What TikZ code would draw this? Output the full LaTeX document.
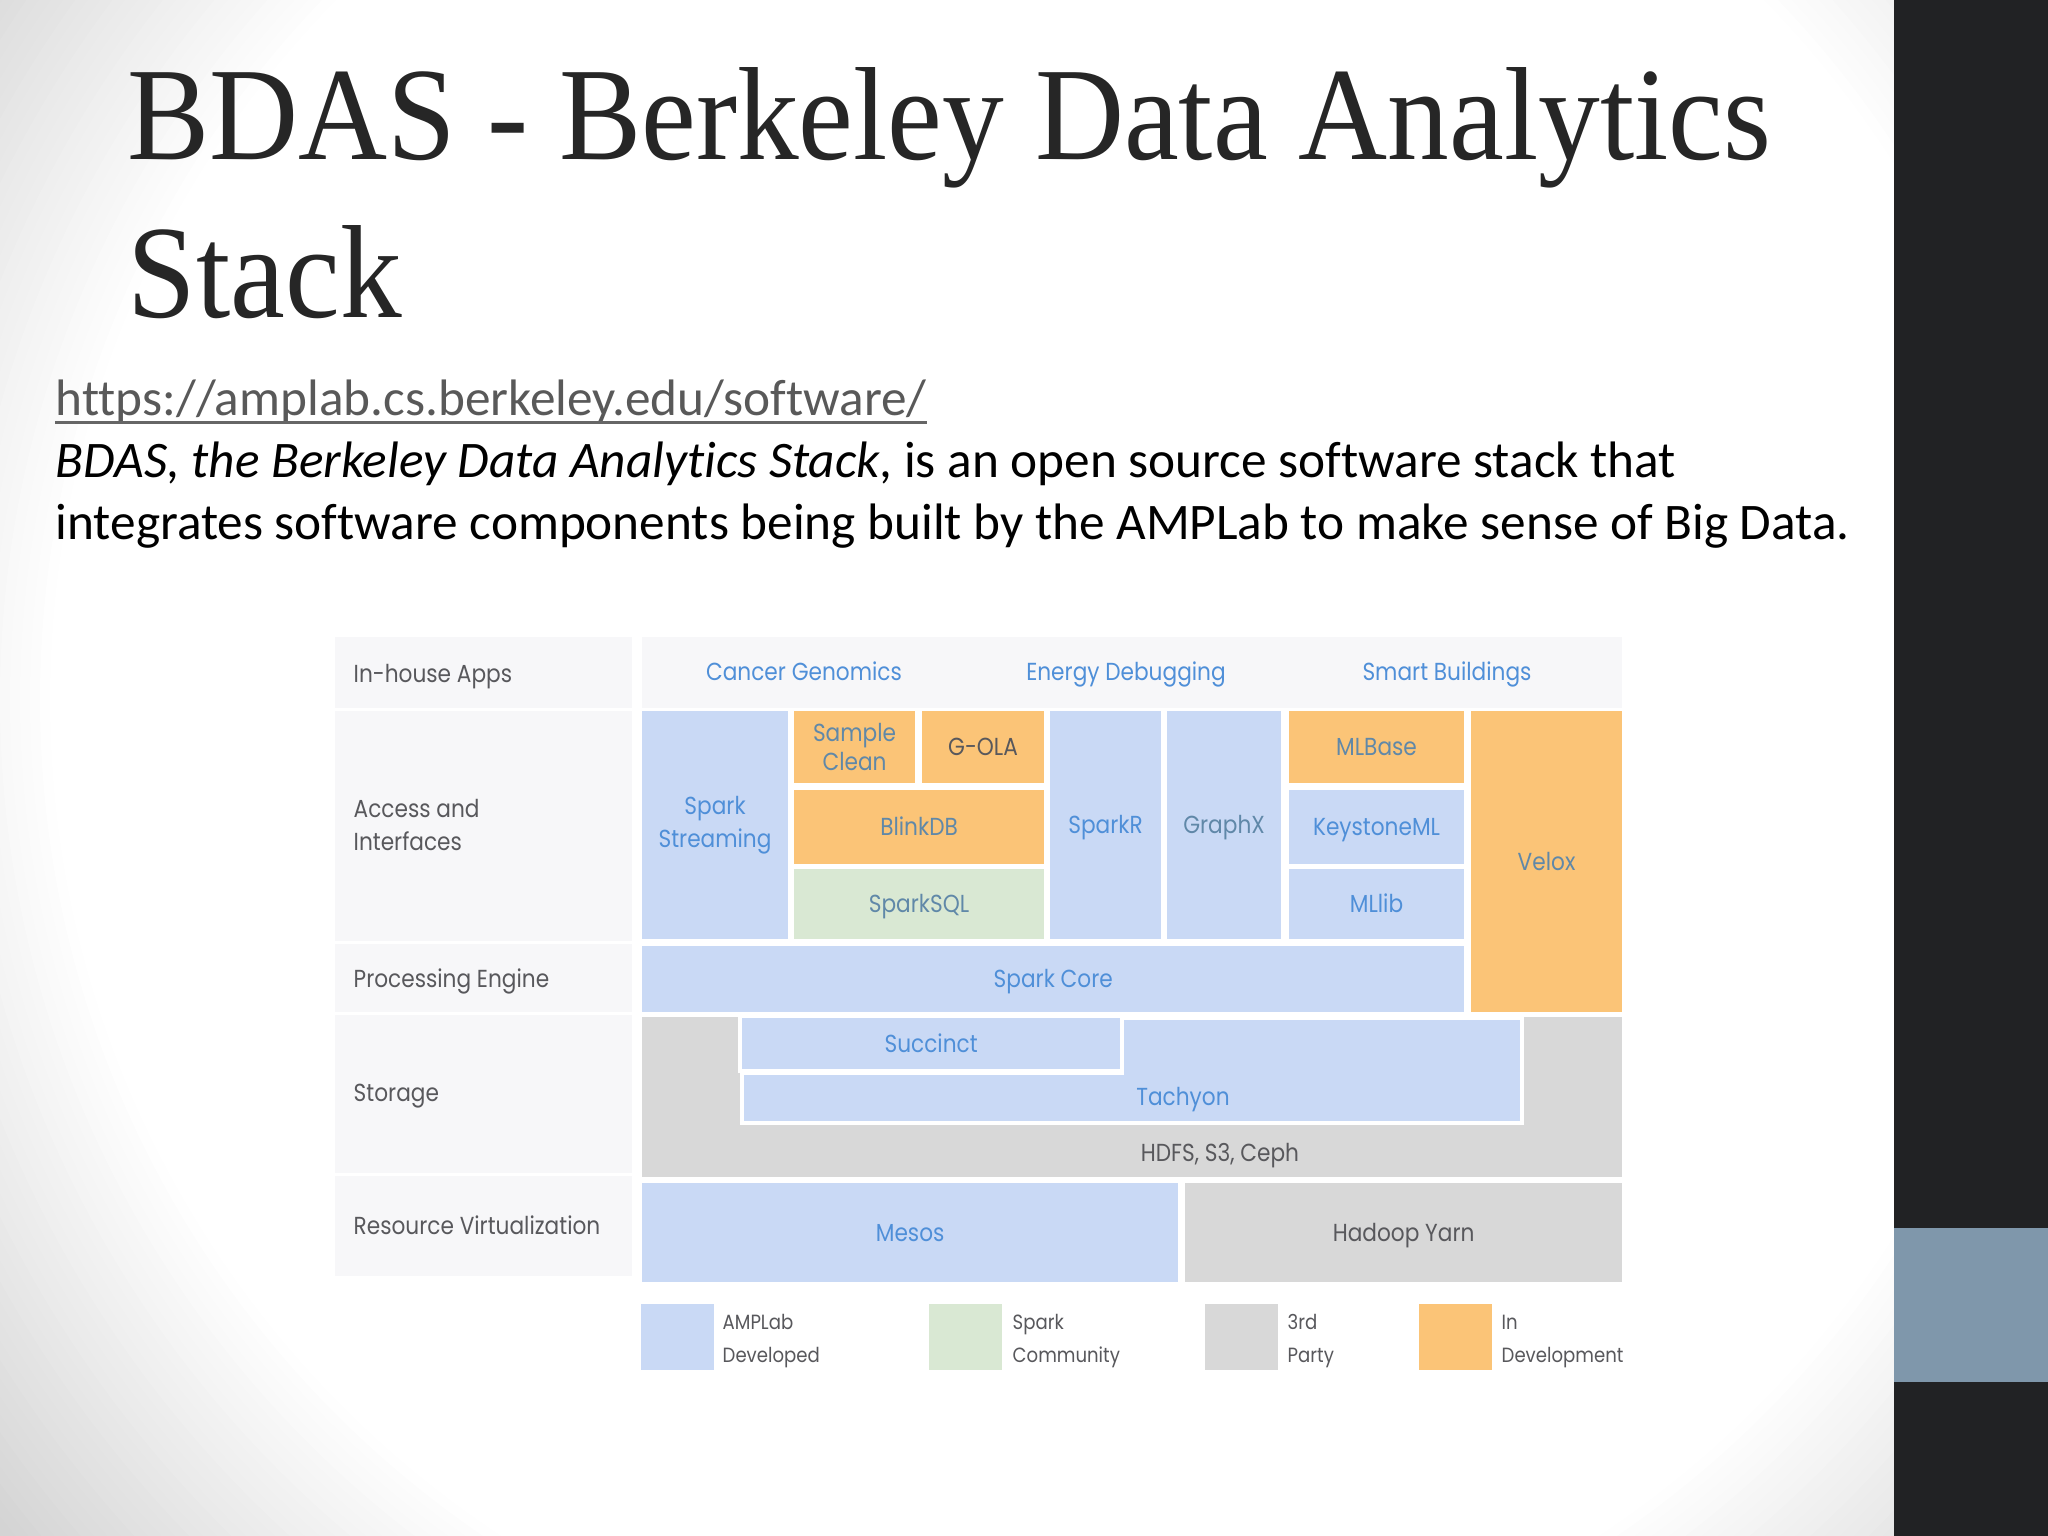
\documentclass[tikz,border=0pt]{standalone}
\usepackage{fontspec}
\setmainfont[Ligatures=NoCommon]{Carlito}
\newfontfamily\titlefont[FakeStretch=0.93]{Liberation Serif}
\newfontfamily\stackfont[FakeStretch=0.88]{Poppins}
\definecolor{bgedge}{HTML}{D4D4D4}
\definecolor{darkbar}{HTML}{212224}
\definecolor{bluebar}{HTML}{7F97AB}
\definecolor{amplab}{HTML}{C9D9F5}
\definecolor{indev}{HTML}{FBC477}
\definecolor{sparkcomm}{HTML}{D9E8D3}
\definecolor{thirdparty}{HTML}{D8D8D8}
\definecolor{pale}{HTML}{F7F7F9}
\definecolor{bluetext}{HTML}{4F8FD8}
\definecolor{greytext}{HTML}{58585C}
\definecolor{mutetext}{HTML}{6088A8}
\tikzset{
    oneline/.style={text height=6.5pt, text depth=1.6pt},
    block/.style={anchor=north west, inner sep=0pt, outer sep=0pt, align=center, text=bluetext,
        font=\stackfont\fontsize{7}{9.4}\selectfont},
    blockone/.style={block, oneline},
    lab/.style={oneline, anchor=west, inner sep=0pt, text=greytext, font=\stackfont\fontsize{7}{8}\selectfont},
    app/.style={oneline, inner sep=0pt, text=bluetext, font=\stackfont\fontsize{7}{8}\selectfont},
    key/.style={anchor=north west, inner sep=0pt, outer sep=0pt, minimum width=0.73cm, minimum height=0.66cm},
    keytext/.style={oneline, anchor=west, inner sep=0pt, text=greytext, font=\stackfont\fontsize{5.85}{6}\selectfont},
    bodyline/.style={anchor=base west, inner sep=0pt, font=\fontsize{14.58}{17}\selectfont},
    headline/.style={anchor=base west, inner sep=0pt, text=black!85, font=\titlefont\fontsize{37.7}{45}\selectfont}
}
\begin{document}
\begin{tikzpicture}[x=0.01cm,y=-0.01cm]
    \useasboundingbox (0,0) rectangle (2048,1536);

    % Sfondo
    \begin{scope}
        \clip (0,0) rectangle (1894,1536);
        \fill[bgedge] (0,0) rectangle (1894,1536);
        \foreach \r in {1340,1330,...,1000} {
            \pgfmathsetmacro{\shadeval}{(\r-1000)/3.4}
            \fill[bgedge!\shadeval!white] (1050,700) circle [radius=\r];
        }
    \end{scope}
    \fill[darkbar] (1894,0) rectangle (2048,1536);
    \fill[bluebar] (1894,1228) rectangle (2048,1382);

    % Titolo
    \node[headline] (title1) at (127,159) {BDAS - Berkeley Data Analytics};
    \node[headline] (title2) at (127,317) {Stack};

    % Testo
    \node[bodyline, text=black!65] (url) at (55,415) {https://amplab.cs.berkeley.edu/software/};
    \draw[black!60, line width=0.8pt] ([yshift=-2.2pt]url.base west) -- ([yshift=-2.2pt]url.base east);
    \node[bodyline] (line1) at (55,477) {\textit{BDAS, the Berkeley Data Analytics Stack}, is an open source software stack that};
    \node[bodyline] (line2) at (55,539) {integrates software components being built by the AMPLab to make sense of Big Data.};

    % Colonna sinistra
    \fill[pale] (335,637) rectangle (632,708);
    \fill[pale] (335,711) rectangle (632,941);
    \fill[pale] (335,944) rectangle (632,1012);
    \fill[pale] (335,1015) rectangle (632,1173);
    \fill[pale] (335,1176) rectangle (632,1276);
    \fill[pale] (642,637) rectangle (1622,708);

    \node[lab] (house) at (353,674) {In-house Apps};
    \node[lab] (access) at (353,809) {Access and};
    \node[lab] (interf) at (353,842) {Interfaces};
    \node[lab] (engine) at (353,979) {Processing Engine};
    \node[lab] (storage) at (353,1093) {Storage};
    \node[lab] (resource) at (353,1226) {Resource Virtualization};

    % Applicazioni
    \node[app] (cancer) at (804,672) {Cancer Genomics};
    \node[app] (energy) at (1126,672) {Energy Debugging};
    \node[app] (smart) at (1447,672) {Smart Buildings};

    % Blocchi
    \node[block, fill=amplab, minimum width=1.46cm, minimum height=2.28cm] (streaming) at (642,711) {Spark\\Streaming};
    \node[block, fill=indev, text=mutetext, minimum width=1.21cm, minimum height=0.72cm, font=\stackfont\fontsize{7}{6.8}\selectfont] (clean) at (794,711) {Sample\\Clean};
    \node[blockone, fill=indev, text=greytext, minimum width=1.22cm, minimum height=0.72cm] (gola) at (922,711) {G-OLA};
    \node[blockone, fill=indev, text=mutetext, minimum width=2.5cm, minimum height=0.74cm] (blinkdb) at (794,790) {BlinkDB};
    \node[blockone, fill=sparkcomm, text=mutetext, minimum width=2.5cm, minimum height=0.7cm] (sparksql) at (794,869) {SparkSQL};
    \node[blockone, fill=amplab, minimum width=1.11cm, minimum height=2.28cm] (sparkr) at (1050,711) {SparkR};
    \node[blockone, fill=amplab, text=mutetext, minimum width=1.14cm, minimum height=2.28cm] (graphx) at (1167,711) {GraphX};
    \node[blockone, fill=indev, text=mutetext, minimum width=1.75cm, minimum height=0.72cm] (mlbase) at (1289,711) {MLBase};
    \node[blockone, fill=amplab, minimum width=1.75cm, minimum height=0.74cm] (keystone) at (1289,790) {KeystoneML};
    \node[blockone, fill=amplab, minimum width=1.75cm, minimum height=0.7cm] (mllib) at (1289,869) {MLlib};
    \node[blockone, fill=indev, text=mutetext, minimum width=1.51cm, minimum height=3.01cm] (velox) at (1471,711) {Velox};
    \node[blockone, fill=amplab, minimum width=8.22cm, minimum height=0.66cm] (core) at (642,946) {Spark Core};

    % Storage
    \fill[thirdparty] (642,1017) rectangle (1622,1177);
    \node[app, text=greytext] (hdfs) at (1220,1153) {HDFS, S3, Ceph};
    \draw[white, line width=1.2pt, fill=amplab] (742,1073) -- (1122,1073) -- (1122,1018) -- (1522,1018) -- (1522,1123) -- (742,1123) -- cycle;
    \node[app] (tachyon) at (1183,1097) {Tachyon};
    \fill[white] (738,1017) rectangle (1124,1073);
    \node[blockone, fill=amplab, minimum width=3.78cm, minimum height=0.51cm] (succinct) at (742,1018) {Succinct};

    \node[blockone, fill=amplab, minimum width=5.36cm, minimum height=0.99cm] (mesos) at (642,1183) {Mesos};
    \node[blockone, fill=thirdparty, text=greytext, minimum width=4.37cm, minimum height=0.99cm] (yarn) at (1185,1183) {Hadoop Yarn};

    % Legenda
    \node[key, fill=amplab] (key1) at (641,1304) {};
    \node[key, fill=sparkcomm] (key2) at (929,1304) {};
    \node[key, fill=thirdparty] (key3) at (1205,1304) {};
    \node[key, fill=indev] (key4) at (1419,1304) {};
    \node[keytext] (amp) at (722,1321) {AMPLab};
    \node[keytext] (dev) at (722,1354) {Developed};
    \node[keytext] (spk) at (1012,1321) {Spark};
    \node[keytext] (com) at (1012,1354) {Community};
    \node[keytext] (trd) at (1287,1321) {3rd};
    \node[keytext] (pty) at (1287,1354) {Party};
    \node[keytext] (inn) at (1501,1321) {In};
    \node[keytext] (dvl) at (1501,1354) {Development};
\end{tikzpicture}
\end{document}
